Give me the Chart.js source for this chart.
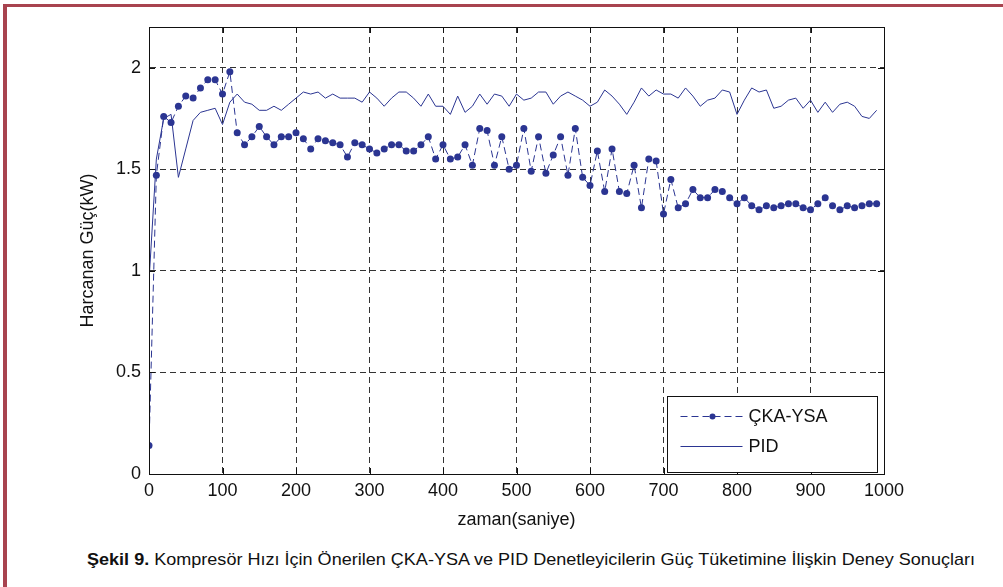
<!DOCTYPE html>
<html>
<head>
<meta charset="utf-8">
<script src="https://cdn.jsdelivr.net/npm/chart.js@4"></script>
<style>
  body { margin: 0; background: #fff; width: 1003px; height: 587px; overflow: hidden; position: relative; }
  #cizgiUst { position: absolute; left: 3px; top: 4px; width: 1000px; height: 3px; background: #a8434f; }
  #cizgiSol { position: absolute; left: 3px; top: 4px; width: 4px; height: 583px; background: #a8434f; }
  #grafik { position: absolute; left: 0; top: 0; }
  #altyazi { position: absolute; left: 87px; top: 550px; font-family: "Liberation Sans Narrow", "Liberation Sans", Arial, sans-serif; font-size: 17px; line-height: 20px; white-space: nowrap; color: #111; transform-origin: left center; }
</style>
</head>
<body>
<div id="cizgiUst"></div>
<div id="cizgiSol"></div>
<canvas id="grafik" width="1003" height="540"></canvas>
<div id="altyazi"><b>Şekil 9.</b> Kompresör Hızı İçin Önerilen ÇKA-YSA ve PID Denetleyicilerin Güç Tüketimine İlişkin Deney Sonuçları</div>
<script>
// zaman ekseni (saniye)
const zaman = [0,10,20,30,40,50,60,70,80,90,100,110,120,130,140,150,160,170,180,190,
  200,210,220,230,240,250,260,270,280,290,300,310,320,330,340,350,360,370,380,390,
  400,410,420,430,440,450,460,470,480,490,500,510,520,530,540,550,560,570,580,590,
  600,610,620,630,640,650,660,670,680,690,700,710,720,730,740,750,760,770,780,790,
  800,810,820,830,840,850,860,870,880,890,900,910,920,930,940,950,960,970,980,990];

const ckaYsa = [0.14,1.47,1.76,1.73,1.81,1.86,1.85,1.90,1.94,1.94,1.87,1.98,1.68,1.62,1.66,1.71,1.66,1.62,1.66,1.66,
  1.68,1.65,1.60,1.65,1.64,1.63,1.62,1.56,1.63,1.62,1.60,1.58,1.60,1.62,1.62,1.59,1.59,1.62,1.66,1.55,
  1.62,1.55,1.56,1.62,1.52,1.70,1.69,1.52,1.66,1.50,1.52,1.70,1.49,1.66,1.48,1.57,1.66,1.47,1.70,1.46,
  1.42,1.59,1.39,1.60,1.39,1.38,1.52,1.31,1.55,1.54,1.28,1.45,1.31,1.33,1.40,1.36,1.36,1.40,1.39,1.36,
  1.33,1.36,1.32,1.30,1.32,1.31,1.32,1.33,1.33,1.31,1.30,1.33,1.36,1.32,1.30,1.32,1.31,1.32,1.33,1.33];

const pid = [0.95,1.55,1.75,1.77,1.46,1.60,1.74,1.78,1.79,1.80,1.72,1.83,1.87,1.83,1.82,1.79,1.79,1.81,1.79,1.82,
  1.85,1.88,1.87,1.88,1.85,1.87,1.85,1.85,1.85,1.83,1.88,1.85,1.81,1.85,1.88,1.88,1.85,1.81,1.87,1.81,
  1.81,1.77,1.86,1.78,1.81,1.87,1.82,1.87,1.86,1.81,1.87,1.84,1.85,1.88,1.88,1.82,1.86,1.88,1.86,1.84,
  1.81,1.83,1.89,1.86,1.82,1.77,1.83,1.90,1.86,1.89,1.87,1.87,1.85,1.90,1.86,1.81,1.84,1.85,1.89,1.88,
  1.77,1.84,1.90,1.88,1.89,1.80,1.81,1.84,1.85,1.80,1.84,1.78,1.83,1.78,1.82,1.83,1.81,1.76,1.75,1.79];

const xTicks = [0,100,200,300,400,500,600,700,800,900,1000];
const yTicks = [0,0.5,1,1.5,2];

const mavi = '#2b3592';
const yazi = '"Liberation Sans", Arial, sans-serif';

// kutu, iç tik çizgileri ve lejant
const cerceve = {
  id: 'cerceve',
  afterDraw(chart) {
    const ctx = chart.ctx;
    const a = chart.chartArea;
    const sx = chart.scales.x, sy = chart.scales.y;
    ctx.save();
    ctx.setLineDash([]);
    ctx.strokeStyle = '#111';
    ctx.lineWidth = 1;
    ctx.strokeRect(Math.round(a.left) + 0.5, Math.round(a.top) + 0.5, Math.round(a.right - a.left), Math.round(a.bottom - a.top));
    ctx.beginPath();
    xTicks.forEach(function(v) {
      const px = Math.round(sx.getPixelForValue(v)) + 0.5;
      ctx.moveTo(px, a.bottom); ctx.lineTo(px, a.bottom - 6);
      ctx.moveTo(px, a.top); ctx.lineTo(px, a.top + 6);
    });
    yTicks.forEach(function(v) {
      const py = Math.round(sy.getPixelForValue(v)) + 0.5;
      ctx.moveTo(a.left, py); ctx.lineTo(a.left + 6, py);
      ctx.moveTo(a.right, py); ctx.lineTo(a.right - 6, py);
    });
    ctx.stroke();

    // lejant kutusu
    const w = 210, h = 76;
    const lx = Math.round(a.right - 7 - w) + 0.5, ly = Math.round(a.bottom - 2 - h) + 0.5;
    ctx.fillStyle = '#fff';
    ctx.fillRect(lx, ly, w, h);
    ctx.strokeRect(lx, ly, w, h);
    const ds = chart.data.datasets;
    ctx.font = '18px ' + yazi;
    ctx.textBaseline = 'middle';
    for (let i = 0; i < ds.length; i++) {
      const ry = Math.round(ly + 19 + i * 30) + 0.5;
      ctx.strokeStyle = mavi;
      ctx.lineWidth = 1;
      ctx.setLineDash(ds[i].borderDash || []);
      ctx.beginPath();
      ctx.moveTo(lx + 13, ry); ctx.lineTo(lx + 75, ry);
      ctx.stroke();
      ctx.setLineDash([]);
      if (ds[i].pointRadius > 0) {
        ctx.fillStyle = mavi;
        ctx.beginPath();
        ctx.arc(lx + 45, ry, 3, 0, Math.PI * 2);
        ctx.fill();
      }
      ctx.fillStyle = '#111';
      ctx.fillText(ds[i].label, lx + 81, ry + 1);
    }
    ctx.restore();
  }
};

var ctx = document.getElementById('grafik').getContext('2d');
var grafik = new Chart(ctx, {
  type: 'line',
  data: {
    datasets: [{
      label: 'ÇKA-YSA',
      data: zaman.map(function(t, i) { return {x: t, y: ckaYsa[i]}; }),
      borderColor: mavi,
      backgroundColor: mavi,
      borderWidth: 1,
      borderDash: [7, 4],
      pointRadius: 3.5,
      pointBorderWidth: 0,
      pointBackgroundColor: mavi,
      fill: false,
      tension: 0
    },
    {
      label: 'PID',
      data: zaman.map(function(t, i) { return {x: t, y: pid[i]}; }),
      borderColor: mavi,
      backgroundColor: mavi,
      borderWidth: 1,
      pointRadius: 0,
      fill: false,
      tension: 0
    }]
  },
  options: {
    responsive: false,
    animation: false,
    layout: { padding: { left: 0, top: 27, right: 119, bottom: 0 } },
    plugins: { legend: { display: false }, tooltip: { enabled: false } },
    scales: {
      x: {
        type: 'linear', min: 0, max: 1000,
        afterBuildTicks: function(s) { s.ticks = xTicks.map(function(v) { return {value: v}; }); },
        afterFit: function(s) { s.height = 66; },
        ticks: { color: '#111', font: { family: yazi, size: 18 }, padding: 6, maxRotation: 0,
          callback: function(v) { return String(v); } },
        grid: { color: '#333', lineWidth: 1, drawTicks: false },
        border: { color: '#111', dash: [6, 4] },
        title: { display: true, text: 'zaman(saniye)', color: '#111', font: { family: yazi, size: 18 }, padding: { top: 0, bottom: 9 } }
      },
      y: {
        type: 'linear', min: 0, max: 2.2,
        afterBuildTicks: function(s) { s.ticks = yTicks.map(function(v) { return {value: v}; }); },
        afterFit: function(s) { s.width = 149; },
        ticks: { color: '#111', font: { family: yazi, size: 18 }, padding: 8,
          callback: function(v) { return String(v); } },
        grid: { color: '#333', lineWidth: 1, drawTicks: false },
        border: { color: '#111', dash: [6, 4] },
        title: { display: true, text: 'Harcanan Güç(kW)', color: '#111', font: { family: yazi, size: 18 }, padding: { top: 77, bottom: 0 } }
      }
    }
  },
  plugins: [cerceve]
});

// alt yazıyı referans genişliğine sığdır
var alt = document.getElementById('altyazi');
var gen = alt.getBoundingClientRect().width;
alt.style.transform = 'scaleX(' + (888 / gen) + ')';
</script>
</body>
</html>
